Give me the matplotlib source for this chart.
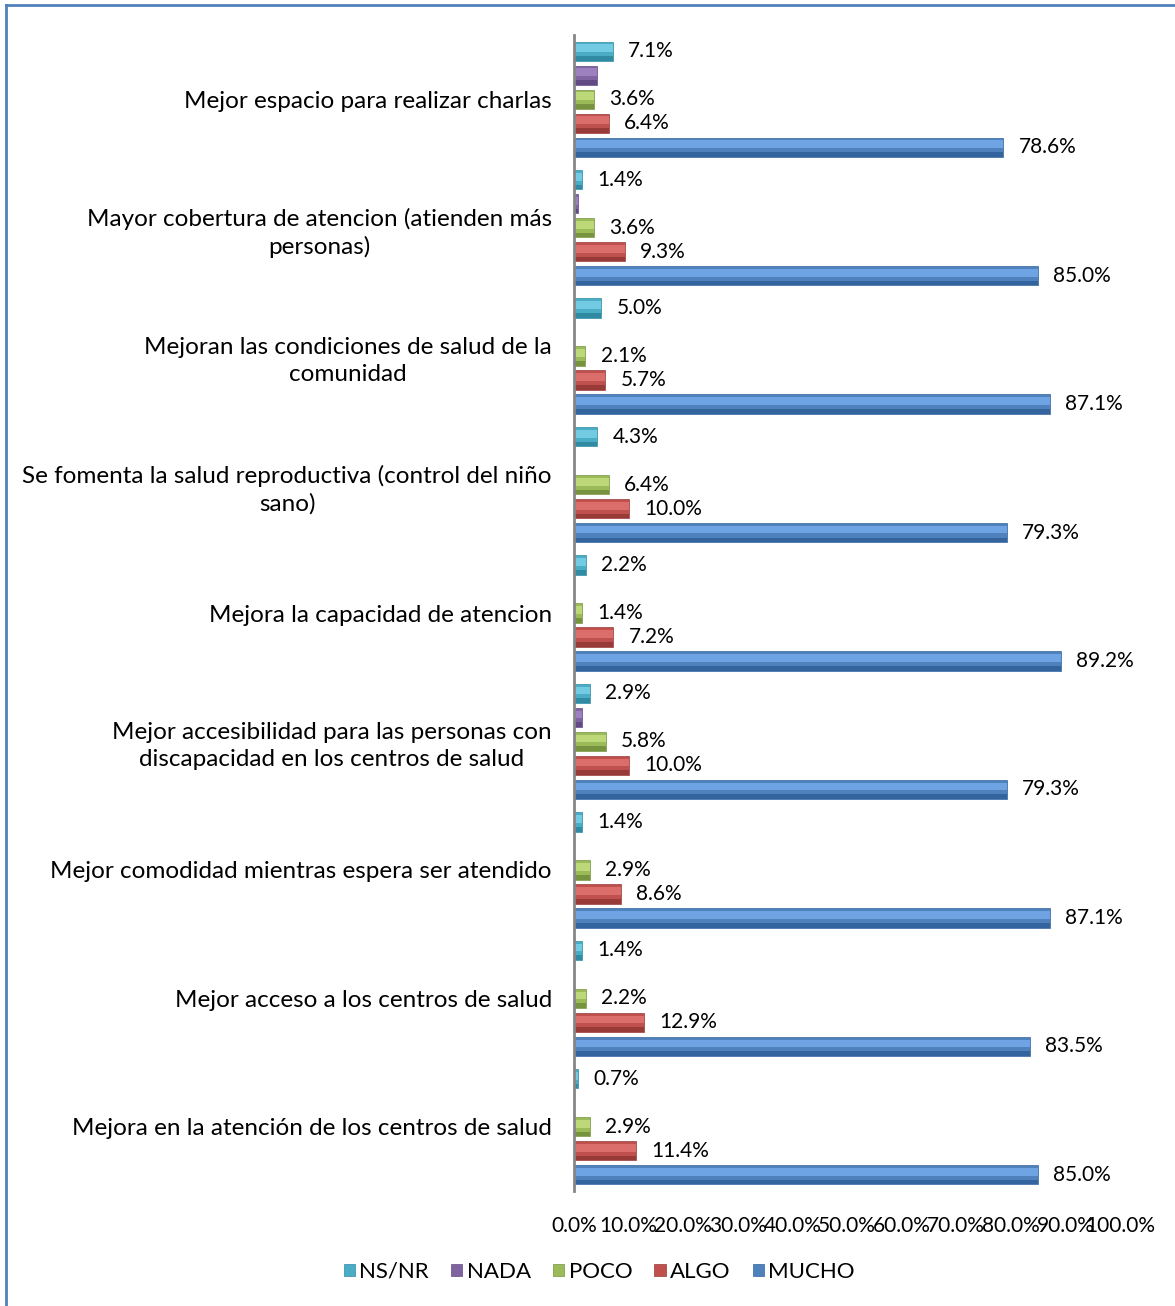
import matplotlib.pyplot as plt
import numpy as np

plt.rcParams['font.family'] = ['Lato', 'DejaVu Sans']

# Datos
categorias = [
    'Mejor espacio para realizar charlas',
    'Mayor cobertura de atencion (atienden más\npersonas)',
    'Mejoran las condiciones de salud de la\ncomunidad',
    'Se fomenta la salud reproductiva (control del niño\nsano)',
    'Mejora la capacidad de atencion',
    'Mejor accesibilidad para las personas con\ndiscapacidad en los centros de salud',
    'Mejor comodidad mientras espera ser atendido',
    'Mejor acceso a los centros de salud',
    'Mejora en la atención de los centros de salud',
]
series = ['NS/NR', 'NADA', 'POCO', 'ALGO', 'MUCHO']
nsnr = [7.1, 1.4, 5.0, 4.3, 2.2, 2.9, 1.4, 1.4, 0.7]
nada = [4.3, 0.7, 0, 0, 0, 1.4, 0, 0, 0]
poco = [3.6, 3.6, 2.1, 6.4, 1.4, 5.8, 2.9, 2.2, 2.9]
algo = [6.4, 9.3, 5.7, 10.0, 7.2, 10.0, 8.6, 12.9, 11.4]
mucho = [78.6, 85.0, 87.1, 79.3, 89.2, 79.3, 87.1, 83.5, 85.0]
ticks_x = [0, 10, 20, 30, 40, 50, 60, 70, 80, 90, 100]

valores = [nsnr, nada, poco, algo, mucho]
colores = ['#4BACC6', '#8064A2', '#9BBB59', '#C0504D', '#4F81BD']
claros = ['#72CBE3', '#9C80C0', '#BCD879', '#DB6D6A', '#6FA4E4']
oscuros = ['#2F8AA2', '#624A84', '#779340', '#983A37', '#34649E']

fig = plt.figure(figsize=(11.75, 13.06), dpi=100)
ax = fig.add_axes([574 / 1175, 1 - 1191 / 1306, 546 / 1175, (1191 - 35) / 1306])

pos = np.arange(len(categorias))[::-1]  # primera categoria arriba
paso = 24 / 128.5
alto = 0.15

for i, (serie, vals) in enumerate(zip(series, valores)):
    y = pos + (2 - i) * paso
    # barra base + brillo + sombra (efecto bisel)
    ax.barh(y, vals, height=alto, color=colores[i], edgecolor=oscuros[i], linewidth=0.5, label=serie)
    ax.barh(y + alto * 0.15, vals, height=alto * 0.4, color=claros[i], linewidth=0)
    ax.barh(y - alto * 0.38, vals, height=alto * 0.24, color=oscuros[i], linewidth=0)
    if serie == 'NADA':
        continue
    for yy, v in zip(y, vals):
        ax.annotate(f'{v:.1f}%', (v, yy), xytext=(11, 0), textcoords='offset points',
                    va='center', ha='left', fontsize=15)

ax.set_xlim(0, 100)
ax.set_ylim(-0.5, len(categorias) - 0.5)
ax.set_xticks(ticks_x)
ax.set_xticklabels([f'{t:.1f}%' for t in ticks_x], fontsize=15)
ax.set_yticks(pos)
ax.set_yticklabels(categorias, fontsize=17.5)
for t in ax.get_yticklabels():
    t.set_multialignment('center')
    t.set_linespacing(1.35)
ax.tick_params(axis='y', length=0, pad=16)
ax.tick_params(axis='x', length=0, pad=18)

for s in ['top', 'right', 'bottom']:
    ax.spines[s].set_visible(False)
ax.spines['left'].set_color('#868686')
ax.spines['left'].set_linewidth(2)

ax.legend(loc='center', bbox_to_anchor=(0.51, 1 - 1272 / 1306), bbox_transform=fig.transFigure,
          ncol=5, frameon=False, fontsize=16, handlelength=0.5, handleheight=0.5,
          handletextpad=0.2, columnspacing=1.0)

# marco del grafico
fig.add_artist(plt.Line2D([6 / 1175, 6 / 1175], [0, 1 - 5 / 1306], color='#4F81BD', lw=2))
fig.add_artist(plt.Line2D([6 / 1175, 1], [1 - 5 / 1306, 1 - 5 / 1306], color='#4F81BD', lw=2))

plt.savefig('out.png')
